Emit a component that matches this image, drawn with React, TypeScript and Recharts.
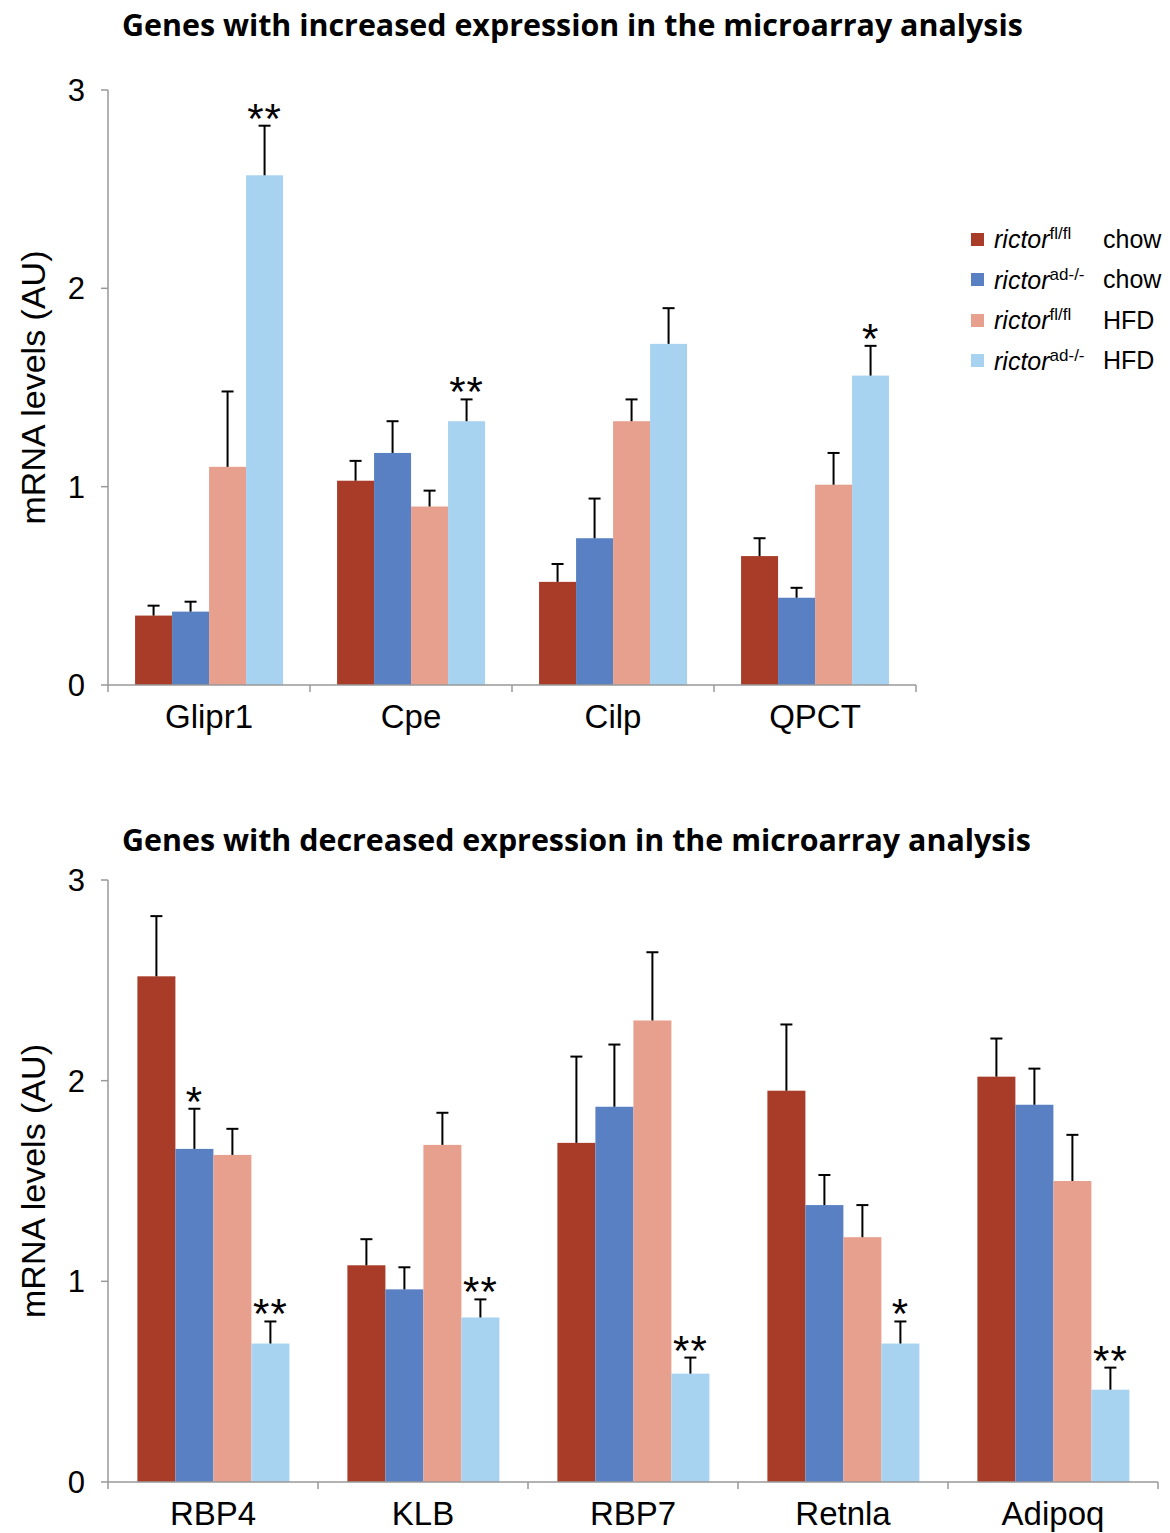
import { BarChart, Bar, XAxis, YAxis } from 'recharts'

// series
const SERIES = [
  { key: 'flChow', color: '#A83C28', sup: 'fl/fl', diet: 'chow' },
  { key: 'adChow', color: '#5880C2', sup: 'ad-/-', diet: 'chow' },
  { key: 'flHfd', color: '#E8A08E', sup: 'fl/fl', diet: 'HFD' },
  { key: 'adHfd', color: '#A8D3F0', sup: 'ad-/-', diet: 'HFD' },
]

// top panel: increased expression
const upGenes = ['Glipr1', 'Cpe', 'Cilp', 'QPCT']
const upFlChow = [0.35, 1.03, 0.52, 0.65]
const upFlChowErr = [0.05, 0.1, 0.09, 0.09]
const upAdChow = [0.37, 1.17, 0.74, 0.44]
const upAdChowErr = [0.05, 0.16, 0.2, 0.05]
const upFlHfd = [1.1, 0.9, 1.33, 1.01]
const upFlHfdErr = [0.38, 0.08, 0.11, 0.16]
const upAdHfd = [2.57, 1.33, 1.72, 1.56]
const upAdHfdErr = [0.25, 0.11, 0.18, 0.15]
const upAdHfdStars = ['**', '**', '', '*']

// bottom panel: decreased expression
const downGenes = ['RBP4', 'KLB', 'RBP7', 'Retnla', 'Adipoq']
const downFlChow = [2.52, 1.08, 1.69, 1.95, 2.02]
const downFlChowErr = [0.3, 0.13, 0.43, 0.33, 0.19]
const downAdChow = [1.66, 0.96, 1.87, 1.38, 1.88]
const downAdChowErr = [0.2, 0.11, 0.31, 0.15, 0.18]
const downAdChowStars = ['*', '', '', '', '']
const downFlHfd = [1.63, 1.68, 2.3, 1.22, 1.5]
const downFlHfdErr = [0.13, 0.16, 0.34, 0.16, 0.23]
const downAdHfd = [0.69, 0.82, 0.54, 0.69, 0.46]
const downAdHfdErr = [0.11, 0.09, 0.08, 0.11, 0.11]
const downAdHfdStars = ['**', '**', '**', '*', '**']

const yTicks = [0, 1, 2, 3]

const upData = upGenes.map((gene, i) => ({
  gene,
  flChow: upFlChow[i], flChowErr: upFlChowErr[i], flChowStar: '',
  adChow: upAdChow[i], adChowErr: upAdChowErr[i], adChowStar: '',
  flHfd: upFlHfd[i], flHfdErr: upFlHfdErr[i], flHfdStar: '',
  adHfd: upAdHfd[i], adHfdErr: upAdHfdErr[i], adHfdStar: upAdHfdStars[i],
}))

const downData = downGenes.map((gene, i) => ({
  gene,
  flChow: downFlChow[i], flChowErr: downFlChowErr[i], flChowStar: '',
  adChow: downAdChow[i], adChowErr: downAdChowErr[i], adChowStar: downAdChowStars[i],
  flHfd: downFlHfd[i], flHfdErr: downFlHfdErr[i], flHfdStar: '',
  adHfd: downAdHfd[i], adHfdErr: downAdHfdErr[i], adHfdStar: downAdHfdStars[i],
}))

const FONT = '"Liberation Sans", Arial, sans-serif'
const AXIS = '#999'

// bar with one-sided (upper) error bar and significance stars
const barWithError = (key: string) => (props: any) => {
  const { x, y, width, height, fill, payload } = props
  const v = payload[key]
  const err = payload[key + 'Err']
  const star = payload[key + 'Star']
  const perUnit = v ? height / v : 0
  const cx = x + width / 2
  const top = y - err * perUnit
  return (
    <g>
      <rect x={x} y={y} width={width} height={height} fill={fill} />
      <line x1={cx} x2={cx} y1={y} y2={top} stroke="#000" strokeWidth={2} />
      <line x1={cx - 6} x2={cx + 6} y1={top} y2={top} stroke="#000" strokeWidth={2} />
      {star ? (
        <text x={cx} y={top + 7} textAnchor="middle" fontFamily={FONT} fontSize={42} letterSpacing={1} fill="#000">
          {star}
        </text>
      ) : null}
    </g>
  )
}

const makeXTick = (band: number, count: number) => (props: any) => {
  const { x, y, payload, index } = props
  return (
    <g>
      <line x1={x - band / 2} x2={x - band / 2} y1={y} y2={y + 7} stroke={AXIS} strokeWidth={1.5} />
      {index === count - 1 ? (
        <line x1={x + band / 2} x2={x + band / 2} y1={y} y2={y + 7} stroke={AXIS} strokeWidth={1.5} />
      ) : null}
      <text x={x} y={y + 43} textAnchor="middle" fontFamily={FONT} fontSize={33} fill="#000">
        {payload.value}
      </text>
    </g>
  )
}

const titleStyle = {
  position: 'absolute' as const,
  fontFamily: '"Open Sans", sans-serif',
  fontWeight: 700,
  fontSize: 30.4,
  lineHeight: '40px',
  color: '#000',
  whiteSpace: 'nowrap' as const,
}

const yLabel = {
  value: 'mRNA levels (AU)',
  angle: -90,
  position: 'center' as const,
  dx: -21,
  style: { fontFamily: FONT, fontSize: 34, fill: '#000', textAnchor: 'middle' },
}

const renderAxes = (band: number, count: number, xh: number) => [
  <XAxis
    key="x"
    dataKey="gene"
    axisLine={{ stroke: AXIS, strokeWidth: 1.5 }}
    tickLine={false}
    tickSize={0}
    tickMargin={0}
    height={xh}
    tick={makeXTick(band, count)}
    interval={0}
  />,
  <YAxis
    key="y"
    domain={[0, 3]}
    ticks={yTicks}
    width={108}
    axisLine={{ stroke: AXIS, strokeWidth: 1.5 }}
    tickLine={{ stroke: AXIS, strokeWidth: 1.5 }}
    tickSize={7}
    tickMargin={16}
    tick={{ fontFamily: FONT, fontSize: 31, fill: '#000' }}
    label={yLabel}
  />,
]

export default function App() {
  return (
    <div style={{ position: 'absolute', left: 0, top: 0, width: 1170, height: 1533, background: '#fff', overflow: 'hidden' }}>
      <div style={{ ...titleStyle, left: 122, top: 5 }}>Genes with increased expression in the microarray analysis</div>
      <div style={{ ...titleStyle, left: 122, top: 820 }}>Genes with decreased expression in the microarray analysis</div>

      <div style={{ position: 'absolute', left: 0, top: 0 }}>
        <BarChart width={1170} height={760} data={upData} margin={{ top: 90, right: 254, bottom: 15, left: 0 }} barCategoryGap="13.4%" barGap={0}>
          {renderAxes(202, upGenes.length, 60)}
          {SERIES.map((s) => (
            <Bar key={s.key} dataKey={s.key} fill={s.color} isAnimationActive={false} shape={barWithError(s.key)} />
          ))}
        </BarChart>
      </div>

      <div style={{ position: 'absolute', left: 971, top: 219, fontFamily: FONT, fontSize: 25, color: '#000' }}>
        {SERIES.map((s) => (
          <div key={s.key} style={{ display: 'flex', alignItems: 'center', height: 40.5 }}>
            <span style={{ width: 13, height: 13, background: s.color, marginRight: 10 }} />
            <span style={{ fontStyle: 'italic', width: 109, whiteSpace: 'nowrap' }}>
              rictor<sup style={{ fontStyle: 'normal', fontSize: 17 }}>{s.sup}</sup>
            </span>
            <span>{s.diet}</span>
          </div>
        ))}
      </div>

      <div style={{ position: 'absolute', left: 0, top: 800 }}>
        <BarChart width={1170} height={733} data={downData} margin={{ top: 80, right: 12, bottom: 0, left: 0 }} barCategoryGap="14%" barGap={0}>
          {renderAxes(210, downGenes.length, 51)}
          {SERIES.map((s) => (
            <Bar key={s.key} dataKey={s.key} fill={s.color} isAnimationActive={false} shape={barWithError(s.key)} />
          ))}
        </BarChart>
      </div>
    </div>
  )
}
